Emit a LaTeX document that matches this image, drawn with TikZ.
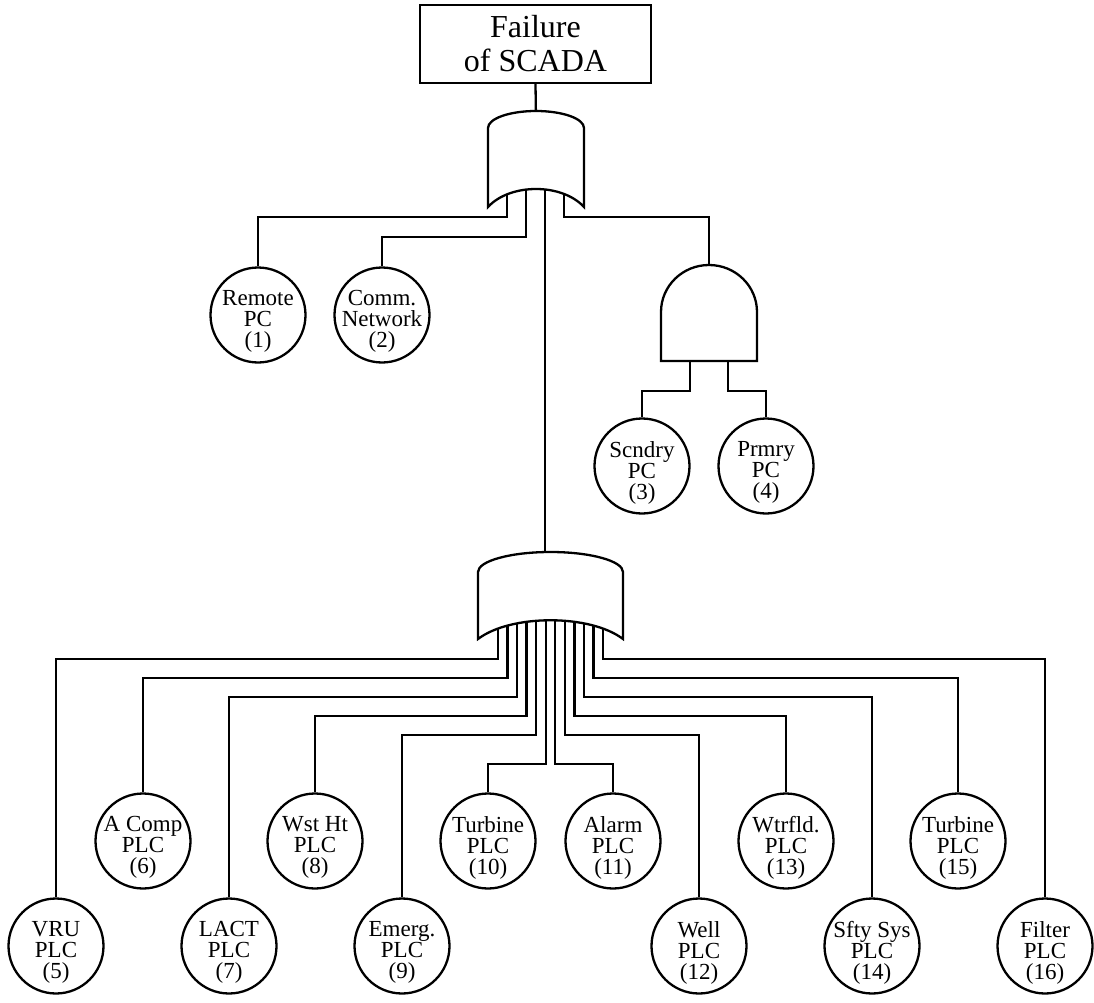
\documentclass[tikz,border=0pt]{standalone}
\usepackage{fontspec}
\setmainfont{Liberation Serif}
\newcommand\evfont{\fontsize{23pt}{21pt}\selectfont}
\newcommand\ttlfont{\fontsize{32pt}{34pt}\selectfont}
\begin{document}
\begin{tikzpicture}[x=1pt,y=-1pt,line width=2.3pt,
  ev/.style={circle,draw,fill=white,minimum size=95pt,inner sep=0pt},
  evt/.style={font=\evfont,align=center,inner sep=0pt,yshift=-6.5pt},
  gate/.style={draw,fill=white},
  topbox/.style={draw,fill=white,minimum width=231pt,minimum height=78pt,align=center,font=\ttlfont,inner sep=0pt}]
\useasboundingbox (0,0) rectangle (1094,1003);
% top event
\node[topbox] (top) at (535.5,44) {Failure\\of SCADA};
% basic events
\node[ev,label={[evt]center:Remote\\PC\\(1)}] (c1) at (258,315) {};
\node[ev,label={[evt]center:Comm.\\Network\\(2)}] (c2) at (382,315) {};
\node[ev,label={[evt]center:Scndry\\PC\\(3)}] (c3) at (642,466) {};
\node[ev,label={[evt]center:Prmry\\PC\\(4)}] (c4) at (766,466) {};
\node[ev,label={[evt]center:VRU\\PLC\\(5)}] (c5) at (56,946) {};
\node[ev,label={[evt]center:A Comp\\PLC\\(6)}] (c6) at (143,841) {};
\node[ev,label={[evt]center:LACT\\PLC\\(7)}] (c7) at (229,946) {};
\node[ev,label={[evt]center:Wst Ht\\PLC\\(8)}] (c8) at (315,841) {};
\node[ev,label={[evt]center:Emerg.\\PLC\\(9)}] (c9) at (402,946) {};
\node[ev,label={[evt]center:Turbine\\PLC\\(10)}] (c10) at (488,841) {};
\node[ev,label={[evt]center:Alarm\\PLC\\(11)}] (c11) at (613,841) {};
\node[ev,label={[evt]center:Well\\PLC\\(12)}] (c12) at (699,946) {};
\node[ev,label={[evt]center:Wtrfld.\\PLC\\(13)}] (c13) at (786,841) {};
\node[ev,label={[evt]center:Sfty Sys\\PLC\\(14)}] (c14) at (872,946) {};
\node[ev,label={[evt]center:Turbine\\PLC\\(15)}] (c15) at (958,841) {};
\node[ev,label={[evt]center:Filter\\PLC\\(16)}] (c16) at (1045,946) {};
% gate ports
\coordinate (g1o) at (536,120);
\coordinate (g1a) at (507,180);
\coordinate (g1b) at (526,180);
\coordinate (g1c) at (545,180);
\coordinate (g1d) at (564,180);
\coordinate (g2o) at (545,565);
\coordinate (g3o) at (709,280);
\coordinate (g3a) at (690,350);
\coordinate (g3b) at (728,350);
\coordinate (b1) at (498,600);
\coordinate (b2) at (507.5,600);
\coordinate (b3) at (517,600);
\coordinate (b4) at (526.6,600);
\coordinate (b5) at (536.2,600);
\coordinate (b6) at (545.7,600);
\coordinate (b7) at (555.3,600);
\coordinate (b8) at (564.8,600);
\coordinate (b9) at (574.4,600);
\coordinate (b10) at (584,600);
\coordinate (b11) at (593.5,600);
\coordinate (b12) at (603,600);
% connectors
\draw (top.south) -- (g1o);
\draw (g1a) -- (g1a |- 0,217) -| (c1.north);
\draw (g1b) -- (g1b |- 0,237) -| (c2.north);
\draw (g1c) -- (g2o);
\draw (g1d) -- (g1d |- 0,217) -| (g3o);
\draw (g3a) -- (g3a |- 0,391) -| (c3.north);
\draw (g3b) -- (g3b |- 0,391) -| (c4.north);
\draw (b1) -- (b1 |- 0,659) -| (c5.north);
\draw (b2) -- (b2 |- 0,678) -| (c6.north);
\draw (b3) -- (b3 |- 0,697) -| (c7.north);
\draw (b4) -- (b4 |- 0,716) -| (c8.north);
\draw (b5) -- (b5 |- 0,735) -| (c9.north);
\draw (b6) -- (b6 |- 0,764) -| (c10.north);
\draw (b7) -- (b7 |- 0,764) -| (c11.north);
\draw (b8) -- (b8 |- 0,735) -| (c12.north);
\draw (b9) -- (b9 |- 0,716) -| (c13.north);
\draw (b10) -- (b10 |- 0,697) -| (c14.north);
\draw (b11) -- (b11 |- 0,678) -| (c15.north);
\draw (b12) -- (b12 |- 0,659) -| (c16.north);
% gates
\path[gate] (488,207) -- (488,128) .. controls (488,118.6) and (509.5,111) .. (536,111)
  .. controls (562.5,111) and (584,118.6) .. (584,128) -- (584,207)
  .. controls (562,183) and (510,183) .. (488,207) -- cycle;
\path[gate] (478,639) -- (478,572) .. controls (478,561) and (510.5,552) .. (550.5,552)
  .. controls (590.5,552) and (623,561) .. (623,572) -- (623,639)
  .. controls (590,614) and (511,614) .. (478,639) -- cycle;
\path[gate] (661,361) -- (661,312) .. controls (661,286) and (682.5,265) .. (709,265)
  .. controls (735.5,265) and (757,286) .. (757,312) -- (757,361) -- cycle;
\end{tikzpicture}
\end{document}
